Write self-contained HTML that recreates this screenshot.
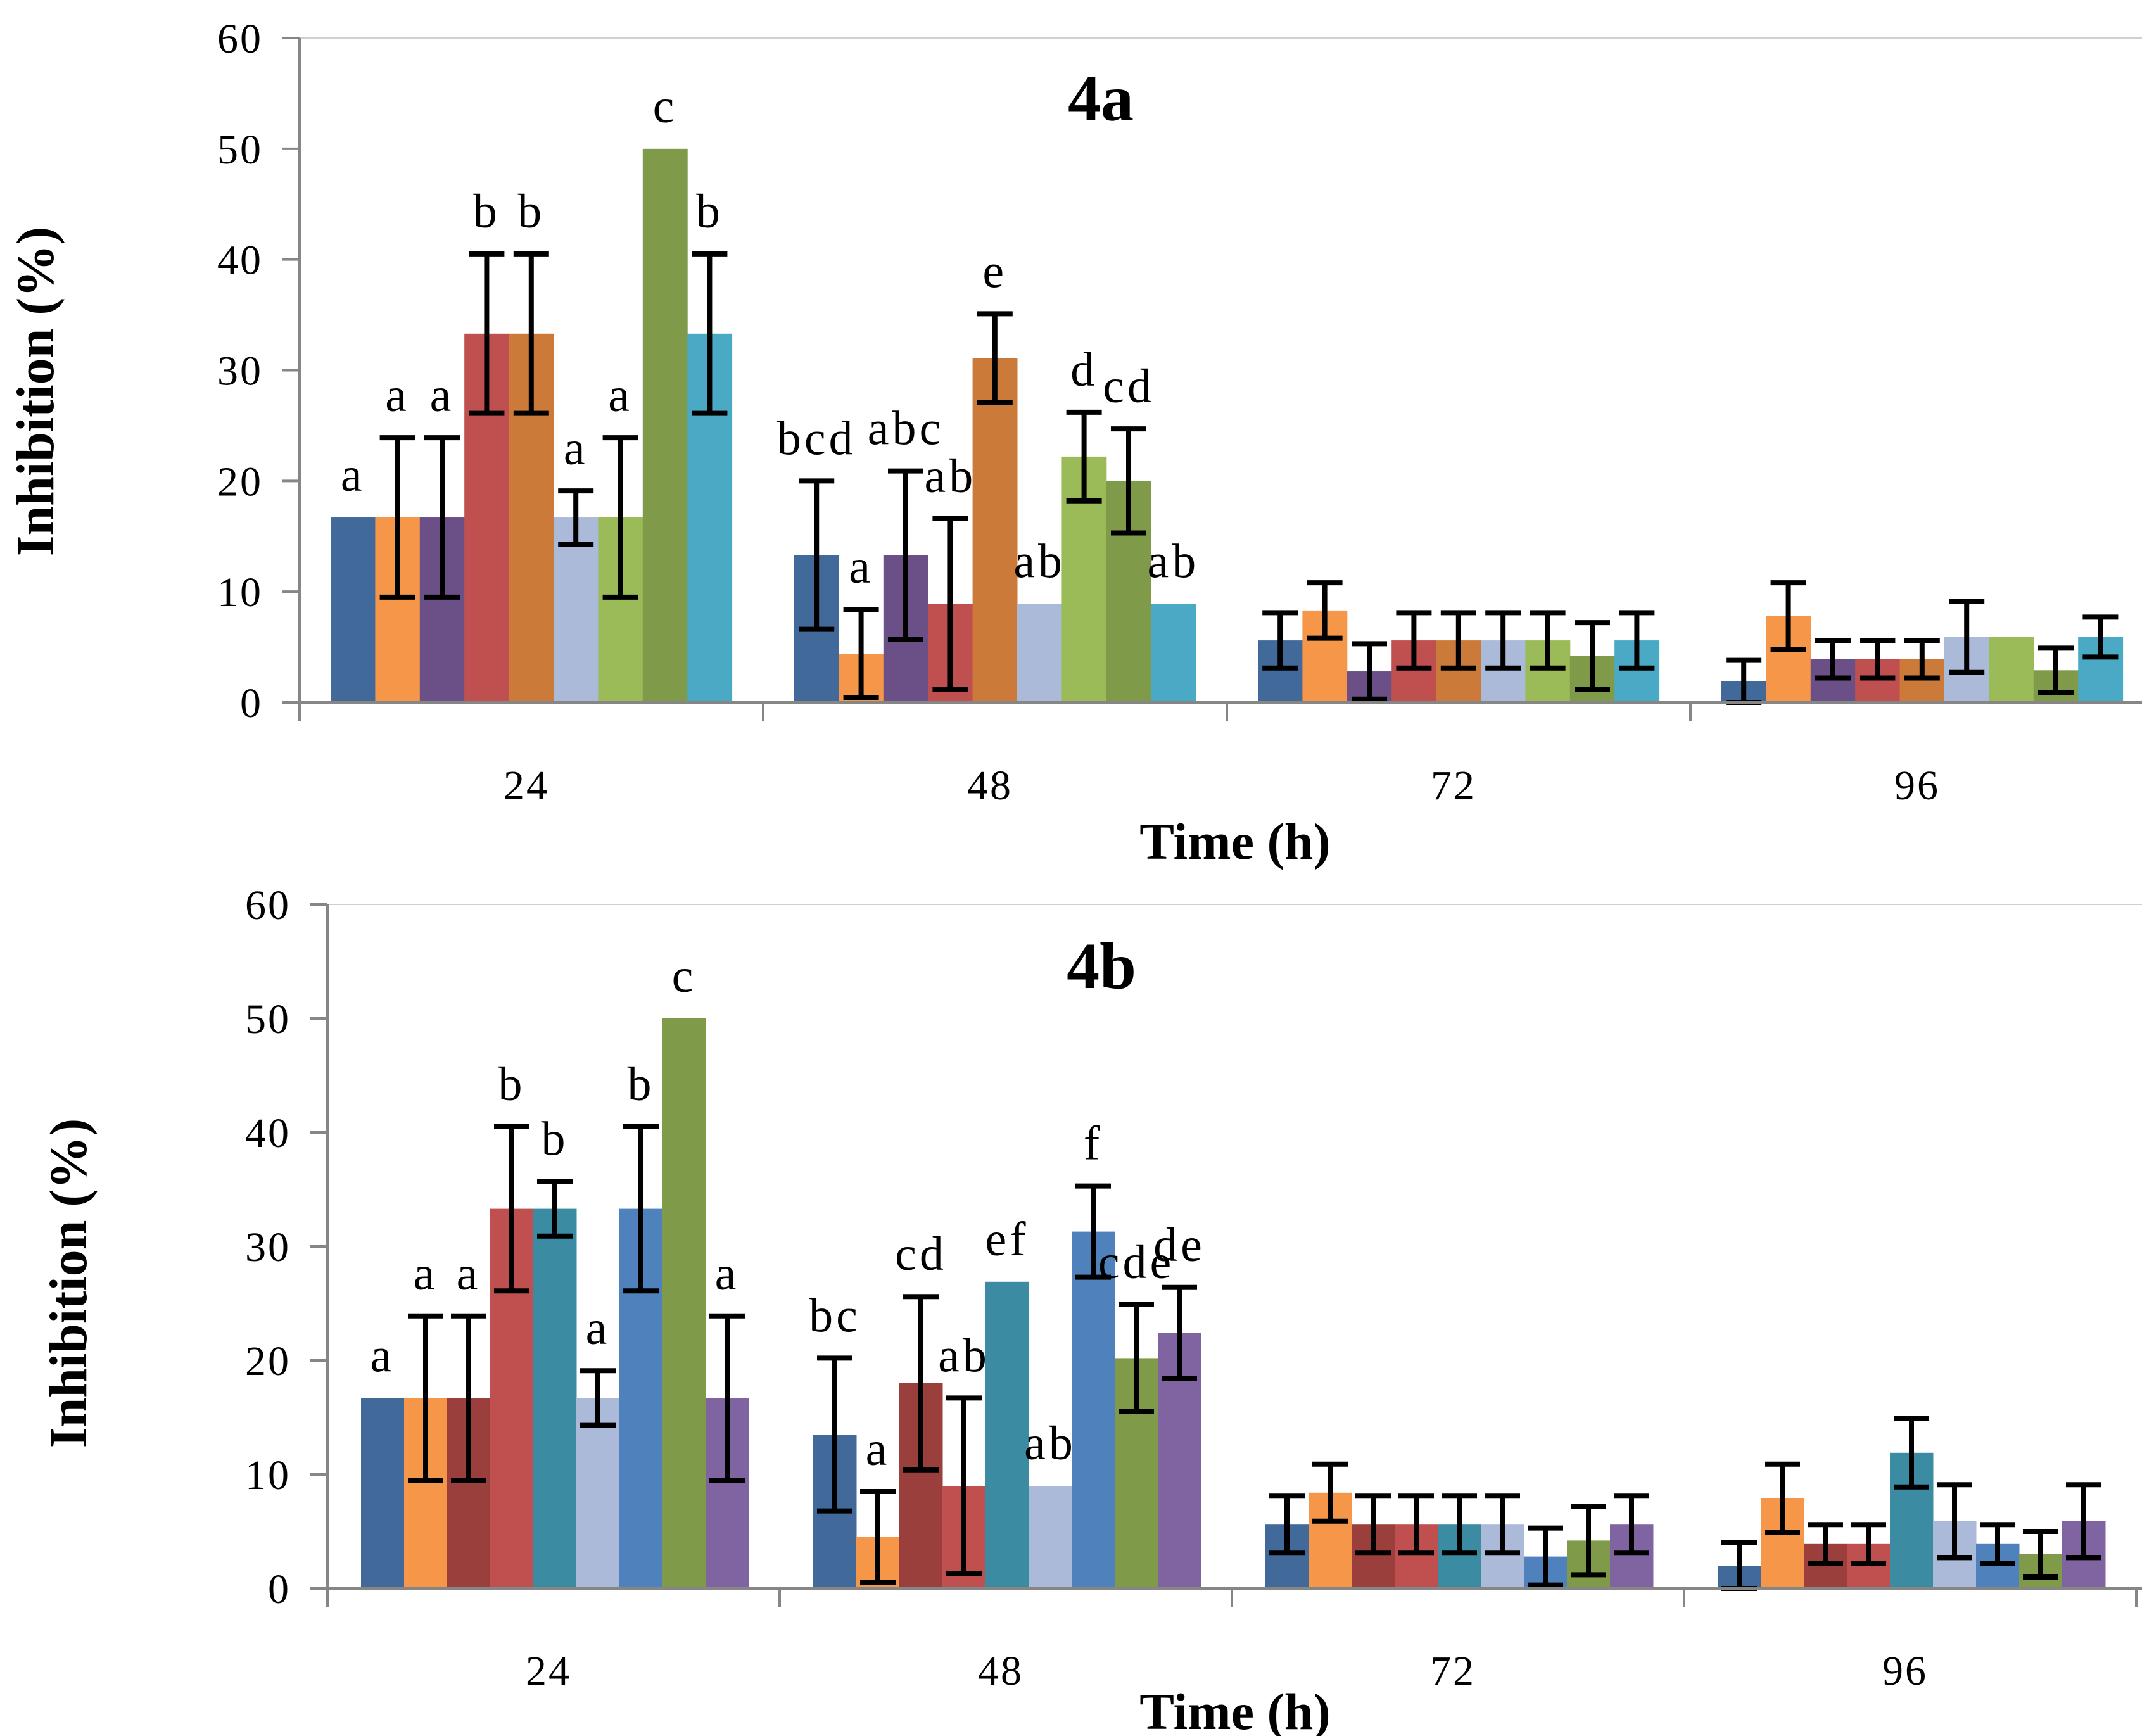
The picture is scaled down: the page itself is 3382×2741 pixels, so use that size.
<!DOCTYPE html>
<html><head><meta charset="utf-8"><style>
html,body{margin:0;padding:0;background:#fff;width:3382px;height:2741px;overflow:hidden}
svg{display:block;font-family:"Liberation Serif",serif}
</style></head><body>
<svg id="chart" width="3382" height="2741" viewBox="0 0 3382 2741" xmlns="http://www.w3.org/2000/svg"></svg>
<script>
const categories=["24","48","72","96"];
const yTicks=[0,10,20,30,40,50,60];
const colorsA=["#416a9b","#f59648","#6a5086","#c0504f","#cc7a3a","#abbad8","#9bbb59","#7f9a48","#4aaac5"];
const colorsB=["#416a9b","#f59648","#9b3f3d","#c0504f","#3b8ca3","#abbad8","#4f81bd","#7f9a48","#8064a2"];
const valuesA=[[16.7,16.7,16.7,33.3,33.3,16.7,16.7,50,33.3],[13.3,4.4,13.3,8.9,31.1,8.9,22.2,20,8.9],[5.6,8.3,2.8,5.6,5.6,5.6,5.6,4.2,5.6],[1.9,7.8,3.9,3.9,3.9,5.9,5.9,2.9,5.9]];
const errorsA=[[0,7.2,7.2,7.2,7.2,2.4,7.2,0,7.2],[6.7,4,7.6,7.7,4,0,4,4.7,0],[2.5,2.5,2.5,2.5,2.5,2.5,2.5,3,2.5],[1.9,3,1.7,1.7,1.7,3.2,0,2,1.8]];
const lettersA=[["a","a","a","b","b","a","a","c","b"],["bcd","a","abc","ab","e","ab","d","cd","ab"],[],[]];
const valuesB=[[16.7,16.7,16.7,33.3,33.3,16.7,33.3,50,16.7],[13.5,4.5,18,9,26.9,9,31.3,20.2,22.4],[5.6,8.4,5.6,5.6,5.6,5.6,2.8,4.2,5.6],[2,7.9,3.9,3.9,11.9,5.9,3.9,3,5.9]];
const errorsB=[[0,7.2,7.2,7.2,2.4,2.4,7.2,0,7.2],[6.7,4,7.6,7.7,0,0,4,4.7,4],[2.5,2.5,2.5,2.5,2.5,2.5,2.5,3,2.5],[2,3,1.7,1.7,3,3.2,1.7,2,3.2]];
const lettersB=[["a","a","a","b","b","a","b","c","a"],["bc","a","cd","ab","ef","ab","f","cde","de"],[],[]];

const svg=document.getElementById('chart');
const NS="http://www.w3.org/2000/svg";
function mk(tag,attrs,parent){const e=document.createElementNS(NS,tag);for(const k in attrs)e.setAttribute(k,attrs[k]);(parent||svg).appendChild(e);return e;}

function drawChart(cfg){
  const g=mk('g',{});
  
  
  const yS=v=>cfg.y0-(v/60)*(cfg.y0-cfg.y60);
  const gl=mk('line',{x1:cfg.x0,x2:3382,y1:yS(60),y2:yS(60),stroke:'#d0d0d0','stroke-width':2},g);
  
  for(let c=0;c<categories.length;c++){
    const gx=cfg.x0+c*cfg.gw+cfg.off;
    for(let s=0;s<cfg.vals[c].length;s++){
      const v=cfg.vals[c][s],x=gx+s*cfg.bw;
      const r=mk('rect',{x:x,y:yS(v),width:cfg.bw+0.5,height:cfg.y0-yS(v),fill:cfg.colors[s]},g);
      
      
    }
  }
  for(let c=0;c<categories.length;c++){
    const gx=cfg.x0+c*cfg.gw+cfg.off;
    for(let s=0;s<cfg.vals[c].length;s++){
      const v=cfg.vals[c][s],e=cfg.errs[c][s],cx=gx+s*cfg.bw+cfg.bw/2;
      if(e>0){
        const eg=mk('g',{stroke:'#000','stroke-width':8},g);
        
        
        mk('line',{x1:cx,x2:cx,y1:yS(v+e),y2:yS(v-e)},eg);
        mk('line',{x1:cx-28,x2:cx+28,y1:yS(v+e),y2:yS(v+e)},eg);
        mk('line',{x1:cx-28,x2:cx+28,y1:yS(v-e),y2:yS(v-e)},eg);
      }
      const L=cfg.letters[c][s];
      if(L){
        const t=mk('text',{x:cx,y:yS(v+e)-42,'text-anchor':'middle','font-size':76,'letter-spacing':5,fill:'#000'},g);
        t.textContent=L;
        
        
      }
    }
  }
  const ax=mk('line',{x1:cfg.x0,x2:cfg.x0,y1:yS(60),y2:cfg.y0+30,stroke:'#868686','stroke-width':4},g);
  
  const xa=mk('line',{x1:cfg.x0-28,x2:3382,y1:cfg.y0,y2:cfg.y0,stroke:'#868686','stroke-width':4},g);
  
  for(const tv of yTicks){
    const tl=mk('line',{x1:cfg.x0-28,x2:cfg.x0,y1:yS(tv),y2:yS(tv),stroke:'#868686','stroke-width':4},g);
    
    const t=mk('text',{x:cfg.x0-58,y:yS(tv)+23,'text-anchor':'end','font-size':66,'letter-spacing':3,fill:'#000'},g);
    t.textContent=tv;
    
  }
  for(let c=0;c<categories.length;c++){
    const tx=cfg.x0+(c+1)*cfg.gw;
    const tl=mk('line',{x1:tx,x2:tx,y1:cfg.y0,y2:cfg.y0+30,stroke:'#868686','stroke-width':4},g);
    
    const t=mk('text',{x:cfg.x0+c*cfg.gw+cfg.gw/2-8,y:cfg.xly,'text-anchor':'middle','font-size':66,'letter-spacing':3,fill:'#000'},g);
    t.textContent=categories[c];
    
  }
  const tt=mk('text',{x:cfg.tx,y:cfg.ty,'text-anchor':'middle','font-size':104,'font-weight':'bold',fill:'#000'},g);
  tt.textContent=cfg.title;
  const xt=mk('text',{x:1950,y:cfg.xty,'text-anchor':'middle','font-size':82,'font-weight':'bold',fill:'#000'},g);
  xt.textContent='Time (h)';
  const yt=mk('text',{x:0,y:0,'text-anchor':'middle','font-size':84,'font-weight':'bold',fill:'#000',transform:`translate(${cfg.ytx},${cfg.yty}) rotate(-90)`},g);
  yt.textContent='Inhibition (%)';
}
drawChart({id:'chart-4a',x0:473,y0:1109,y60:60,gw:732,off:49,bw:70.4,vals:valuesA,errs:errorsA,letters:lettersA,colors:colorsA,xly:1262,title:'4a',tx:1738,ty:190,xty:1356,ytx:84,yty:618});
drawChart({id:'chart-4b',x0:517,y0:2508,y60:1428,gw:714,off:53,bw:68,vals:valuesB,errs:errorsB,letters:lettersB,colors:colorsB,xly:2660,title:'4b',tx:1739,ty:1560,xty:2730,ytx:136,yty:2026});
</script>
</body></html>
